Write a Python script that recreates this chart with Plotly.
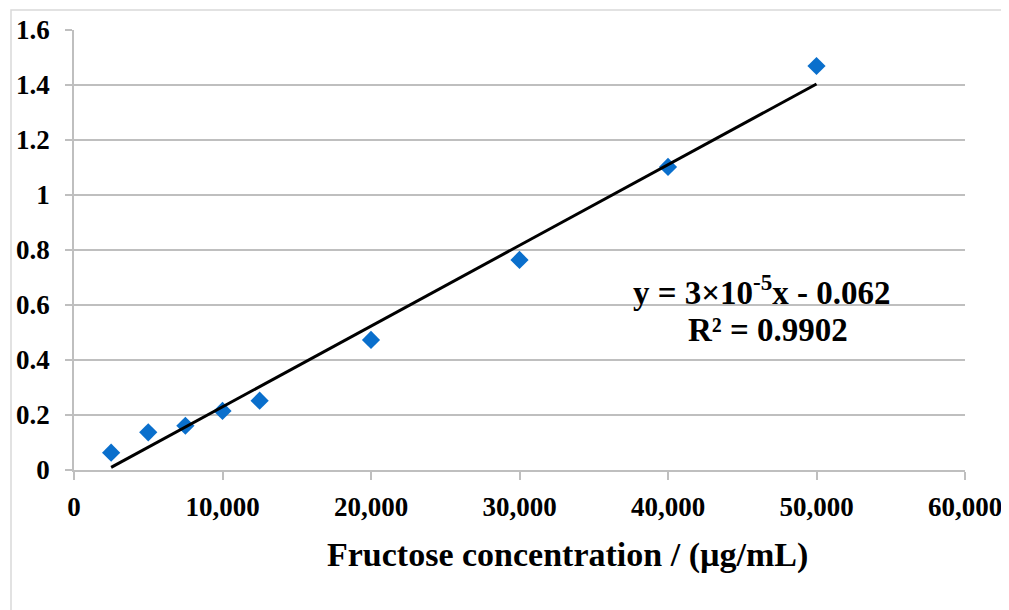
import numpy as np
import plotly.graph_objects as go

# Data
concentration = [2500, 5000, 7500, 10000, 12500, 20000, 30000, 40000, 50000]
absorbance = [0.063, 0.137, 0.161, 0.215, 0.252, 0.473, 0.764, 1.102, 1.469]
x_ticks = [0, 10000, 20000, 30000, 40000, 50000, 60000]
x_tick_labels = ["0", "10,000", "20,000", "30,000", "40,000", "50,000", "60,000"]
y_ticks = [0, 0.2, 0.4, 0.6, 0.8, 1.0, 1.2, 1.4, 1.6]
y_tick_labels = ["0", "0.2", "0.4", "0.6", "0.8", "1", "1.2", "1.4", "1.6"]
equation_text = "<b>y = 3×10<sup>-5</sup>x - 0.062</b>"
r2_text = "<b>R² = 0.9902</b>"
x_title = "<b>Fructose concentration / (µg/mL)</b>"

# Linear trend line fitted from the data
slope, intercept = np.polyfit(concentration, absorbance, 1)
trend_x = [concentration[0], concentration[-1]]
trend_y = [slope * v + intercept for v in trend_x]

FONT = "Liberation Serif"
GRID = "#bfbfbf"

fig = go.Figure()
fig.add_trace(go.Scatter(
    x=concentration, y=absorbance, mode="markers",
    marker=dict(symbol="diamond", size=14, color="#0A6FCC", line=dict(width=0)),
    showlegend=False, cliponaxis=False,
))
fig.add_trace(go.Scatter(
    x=trend_x, y=trend_y, mode="lines",
    line=dict(color="black", width=3),
    showlegend=False,
))

fig.add_annotation(x=46300, y=0.655, xref="x", yref="y", text=equation_text,
                   showarrow=False, xanchor="center", yanchor="middle",
                   font=dict(family=FONT, size=33, color="black"))
fig.add_annotation(x=46700, y=0.509, xref="x", yref="y", text=r2_text,
                   showarrow=False, xanchor="center", yanchor="middle",
                   font=dict(family=FONT, size=33, color="black"))

# X-axis title (placed off-centre as in the original)
fig.add_annotation(x=(567 - 74) / 891, y=(470 - 555) / 440, xref="paper", yref="paper",
                   text=x_title, showarrow=False, xanchor="center", yanchor="middle",
                   font=dict(family=FONT, size=34, color="black"))

# Outer light frame of the chart area
fig.add_shape(type="rect", xref="paper", yref="paper",
              x0=(11 - 74) / 891, x1=1.2, y0=-0.5, y1=(470 - 10) / 440,
              line=dict(color="#d9d9d9", width=1.5), layer="below")

tick_font = dict(family=FONT, size=27, color="black")

# The page body has an 8 px margin, so the figure is sized and offset to compensate
fig.update_layout(
    width=1001, height=602,
    margin=dict(l=66, r=44, t=22, b=140),
    paper_bgcolor="white", plot_bgcolor="white",
    font=dict(family=FONT, color="black"),
    xaxis=dict(
        range=[0, 60000], tickmode="array", tickvals=x_ticks,
        ticktext=[f"<b>{t}</b>" for t in x_tick_labels],
        showgrid=False, zeroline=False, automargin=False,
        showline=True, linecolor=GRID, linewidth=1.5,
        ticks="outside", ticklen=8, tickcolor=GRID, tickwidth=1.5,
        tickfont=tick_font,
        ticklabelstandoff=4,
    ),
    yaxis=dict(
        range=[0, 1.6], tickmode="array", tickvals=y_ticks,
        ticktext=[f"<b>{t}</b>" for t in y_tick_labels],
        showgrid=True, gridcolor=GRID, gridwidth=1.5, zeroline=False, automargin=False,
        showline=True, linecolor=GRID, linewidth=1.5,
        ticks="outside", ticklen=7, tickcolor=GRID, tickwidth=1.5,
        tickfont=tick_font,
        ticklabelstandoff=10,
    ),
)

fig.write_html("out.html")
